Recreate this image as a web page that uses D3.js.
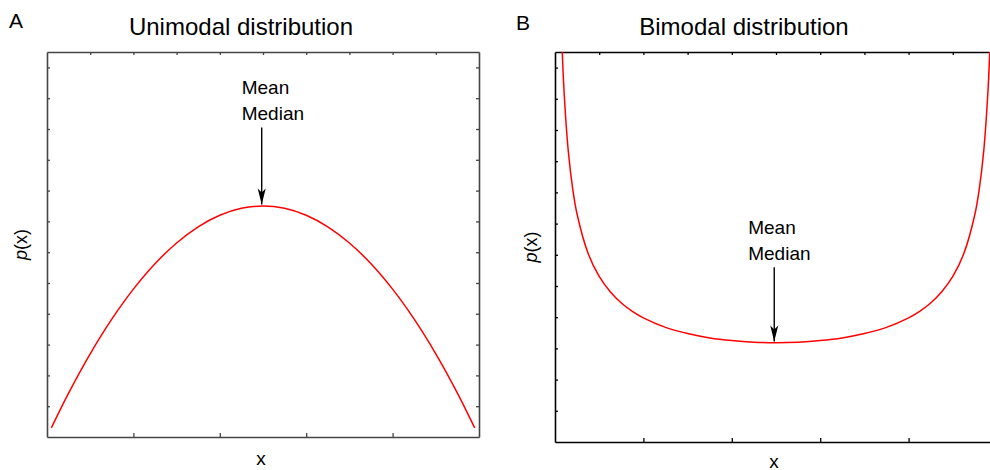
<!DOCTYPE html>
<html>
<head>
<meta charset="utf-8">
<script src="https://d3js.org/d3.v7.min.js"></script>
<style>
    body { margin: 0; background: #fff; }
    svg { font-family: "Liberation Sans", Arial, Helvetica, sans-serif; }
</style>
</head>
<body>
<div id="chart"></div>
<script>

    // values (x on [0,1], density p(x))
    var uniX = [0.01, 0.05, 0.10, 0.15, 0.20, 0.25, 0.30, 0.35, 0.40, 0.45, 0.50,
                0.55, 0.60, 0.65, 0.70, 0.75, 0.80, 0.85, 0.90, 0.95, 0.99];
    var uniY = [0.059, 0.285, 0.540, 0.765, 0.960, 1.125, 1.260, 1.365, 1.440, 1.485, 1.500,
                1.485, 1.440, 1.365, 1.260, 1.125, 0.960, 0.765, 0.540, 0.285, 0.059];

    var biX = [0.01, 0.015, 0.02, 0.03, 0.04, 0.05, 0.075, 0.10, 0.125, 0.15, 0.175, 0.20, 0.25, 0.30, 0.35, 0.40, 0.45, 0.50,
               0.55, 0.60, 0.65, 0.70, 0.75, 0.80, 0.825, 0.85, 0.875, 0.90, 0.925, 0.95, 0.96, 0.97, 0.98, 0.985, 0.99];
    var biY = [3.199, 2.619, 2.274, 1.866, 1.624, 1.460, 1.208, 1.061, 0.963, 0.891, 0.838, 0.796, 0.735, 0.695, 0.667, 0.650, 0.640, 0.637,
               0.640, 0.650, 0.667, 0.695, 0.735, 0.796, 0.838, 0.891, 0.963, 1.061, 1.208, 1.460, 1.624, 1.866, 2.274, 2.619, 3.199];

    // tick values
    var topTicks = [0.1, 0.2, 0.3, 0.4, 0.5, 0.6, 0.7, 0.8, 0.9];
    var bottomTicks = [0.2, 0.4, 0.6, 0.8];
    var sideTicks = [0.2, 0.4, 0.6, 0.8, 1.0, 1.2, 1.4, 1.6, 1.8, 2.0, 2.2, 2.4];

    // mean / median markers: x, arrow start, arrow tip
    var uniMark = {x: 0.497, from: 2.01, to: 1.51};
    var biMark = {x: 0.496, from: 1.12, to: 0.645};

    var svg = d3.select("#chart")
      .append("svg")
        .attr("width", 990)
        .attr("height", 470);

    var defs = svg.append("defs");
    defs.append("marker")
        .attr("id", "head")
        .attr("markerUnits", "userSpaceOnUse")
        .attr("viewBox", "-17 -5 18 10")
        .attr("refX", 0).attr("refY", 0)
        .attr("markerWidth", 18).attr("markerHeight", 10)
        .attr("orient", "auto")
      .append("path")
        .attr("d", "M0,0 L-16,-4 L-12,0 L-16,4 Z")
        .attr("fill", "#000");

    function panel(opt) {
        var x = d3.scaleLinear().domain([0, 1]).range([opt.left, opt.right]);
        var y = d3.scaleLinear().domain([0, 2.5]).range([opt.bottom, opt.top]);

        var g = svg.append("g");

        defs.append("clipPath").attr("id", "clip" + opt.id)
          .append("rect")
            .attr("x", opt.left).attr("y", opt.top)
            .attr("width", opt.right - opt.left).attr("height", opt.bottom - opt.top);

        // box with inward ticks
        var axes = [
            [d3.axisTop(x).tickValues(topTicks).tickSize(-3), "translate(0," + opt.top + ")"],
            [d3.axisBottom(x).tickValues(bottomTicks).tickSize(-4), "translate(0," + opt.bottom + ")"],
            [d3.axisLeft(y).tickValues(sideTicks).tickSize(-3), "translate(" + opt.left + ",0)"],
            [d3.axisRight(y).tickValues(sideTicks).tickSize(-3), "translate(" + opt.right + ",0)"]
        ];
        axes.forEach(function(a) {
            var ax = g.append("g")
                .attr("transform", a[1])
                .call(a[0].tickSizeOuter(0).tickFormat(""));
            ax.select(".domain").attr("stroke", opt.axisColor).attr("stroke-width", 1.6);
            ax.selectAll(".tick line").attr("stroke", opt.axisColor).attr("stroke-width", 1.3);
        });

        // curve
        var line = d3.line()
            .x(function(d) { return x(d[0]); })
            .y(function(d) { return y(d[1]); })
            .curve(d3.curveCatmullRom.alpha(0.5));

        g.append("path")
            .datum(d3.zip(opt.xs, opt.ys))
            .attr("clip-path", "url(#clip" + opt.id + ")")
            .attr("d", line)
            .attr("fill", "none")
            .attr("stroke", "#ff0000")
            .attr("stroke-width", 1.5);

        // mean / median arrow
        var m = opt.mark;
        g.append("line")
            .attr("x1", x(m.x)).attr("x2", x(m.x))
            .attr("y1", y(m.from)).attr("y2", y(m.to))
            .attr("stroke", "#000")
            .attr("stroke-width", 1.4)
            .attr("marker-end", "url(#head)");

        var tx = x(m.x) + opt.textDx;
        g.append("text").attr("x", tx).attr("y", y(m.from) - 33)
            .attr("font-size", 19).text("Mean");
        g.append("text").attr("x", tx).attr("y", y(m.from) - 7)
            .attr("font-size", 19).text("Median");

        // titles and labels
        g.append("text")
            .attr("x", opt.titleX).attr("y", 35)
            .attr("text-anchor", "middle")
            .attr("font-size", 24)
            .text(opt.title);

        g.append("text")
            .attr("x", opt.letterX).attr("y", opt.letterY)
            .attr("font-size", 21)
            .text(opt.letter);

        g.append("text")
            .attr("x", (opt.left + opt.right) / 2 - 2)
            .attr("y", opt.xlabY)
            .attr("text-anchor", "middle")
            .attr("font-size", 19)
            .text("x");

        var yl = g.append("text")
            .attr("transform", "translate(" + opt.ylabX + "," + (opt.top + opt.bottom) / 2 + ") rotate(-90)")
            .attr("text-anchor", "middle")
            .attr("font-size", 18);
        yl.append("tspan").attr("font-style", "italic").text("p");
        yl.append("tspan").text("(x)");
    }

    panel({
        id: "A", letter: "A", title: "Unimodal distribution",
        left: 47, right: 479, top: 52, bottom: 437,
        xs: uniX, ys: uniY, mark: uniMark, textDx: -20,
        titleX: 241, letterX: 9, letterY: 28, ylabX: 27, xlabY: 465,
        axisColor: "#444"
    });

    panel({
        id: "B", letter: "B", title: "Bimodal distribution",
        left: 555, right: 997, top: 52, bottom: 442,
        xs: biX, ys: biY, mark: biMark, textDx: -26,
        titleX: 744, letterX: 516, letterY: 30, ylabX: 537, xlabY: 468,
        axisColor: "#000"
    });

</script>
</body>
</html>
